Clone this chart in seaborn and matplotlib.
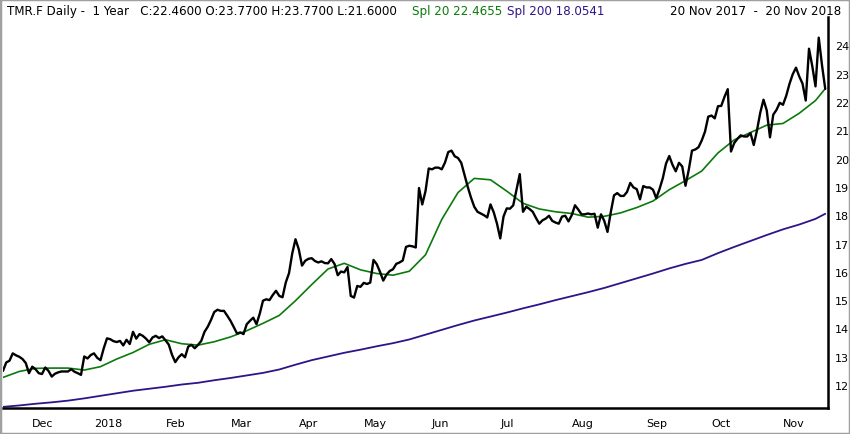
import numpy as np
import pandas as pd
import matplotlib
matplotlib.use("Agg")
import matplotlib.pyplot as plt
import seaborn as sns
from matplotlib.patches import Rectangle

# Frankfurt trading days, 20 Nov 2017 - 20 Nov 2018
holidays = ["2017-12-25", "2017-12-26", "2018-01-01", "2018-03-30",
            "2018-04-02", "2018-05-01", "2018-05-21", "2018-10-03"]
dates = pd.bdate_range("2017-11-20", "2018-11-20", freq="C", holidays=holidays)

# daily close
close = [12.50, 12.80, 12.86, 13.12, 13.05, 13.00, 12.92, 12.78, 12.42, 12.65,
         12.56, 12.42, 12.39, 12.62, 12.50, 12.30, 12.40, 12.45, 12.48, 12.48,
         12.48, 12.56, 12.47, 12.42, 12.36, 13.01, 12.94, 13.06, 13.12, 12.96,
         12.88, 13.30, 13.65, 13.62, 13.55, 13.52, 13.56, 13.40, 13.60, 13.45,
         13.88, 13.64, 13.80, 13.74, 13.64, 13.51, 13.68, 13.74, 13.66, 13.72,
         13.58, 13.43, 13.07, 12.81, 12.98, 13.09, 12.98, 13.36, 13.42, 13.30,
         13.42, 13.56, 13.88, 14.06, 14.30, 14.58, 14.66, 14.62, 14.62, 14.45,
         14.27, 14.05, 13.82, 13.86, 13.80, 14.15, 14.27, 14.38, 14.15, 14.52,
         14.98, 15.03, 15.00, 15.18, 15.33, 15.15, 15.10, 15.62, 15.95, 16.65,
         17.15, 16.80, 16.22, 16.39, 16.46, 16.48, 16.38, 16.33, 16.37, 16.31,
         16.30, 16.45, 16.28, 15.88, 16.01, 15.98, 16.17, 15.15, 15.09, 15.50,
         15.47, 15.61, 15.57, 15.62, 16.42, 16.27, 16.00, 15.69, 15.90, 16.03,
         16.09, 16.28, 16.33, 16.40, 16.88, 16.92, 16.90, 16.86, 18.96, 18.38,
         18.85, 19.65, 19.62, 19.68, 19.68, 19.62, 19.86, 20.23, 20.28, 20.08,
         20.02, 19.85, 19.43, 19.00, 18.62, 18.30, 18.12, 18.06, 18.00, 17.92,
         18.38, 18.10, 17.70, 17.18, 17.95, 18.24, 18.23, 18.35, 18.90, 19.45,
         18.12, 18.30, 18.22, 18.12, 17.90, 17.70, 17.82, 17.88, 17.98, 17.80,
         17.74, 17.70, 17.95, 17.98, 17.78, 18.00, 18.35, 18.20, 18.03, 18.03,
         18.06, 18.03, 18.05, 17.56, 18.03, 17.80, 17.41, 18.10, 18.70, 18.78,
         18.68, 18.68, 18.82, 19.14, 18.98, 18.92, 18.56, 19.03, 18.98, 18.98,
         18.90, 18.60, 18.92, 19.30, 19.82, 20.09, 19.78, 19.55, 19.85, 19.72,
         19.04, 19.60, 20.28, 20.32, 20.40, 20.64, 20.95, 21.48, 21.52, 21.42,
         21.85, 21.86, 22.18, 22.45, 20.25, 20.55, 20.70, 20.82, 20.78, 20.78,
         20.90, 20.48, 21.00, 21.62, 22.08, 21.70, 20.75, 21.55, 21.72, 21.97,
         21.90, 22.22, 22.64, 22.98, 23.21, 22.90, 22.65, 22.05, 23.88, 23.27,
         22.55, 24.27, 23.30, 22.46]

# moving averages, every 5th trading day plus the last one
sma_days = list(range(0, 251, 5)) + [253]
sma20 = [12.27, 12.48, 12.59, 12.60, 12.60, 12.53, 12.65, 12.92, 13.15, 13.44,
         13.60, 13.46, 13.41, 13.53, 13.70, 13.92, 14.18, 14.46, 14.98, 15.55,
         16.10, 16.30, 16.07, 15.94, 15.88, 16.02, 16.60, 17.85, 18.80, 19.30,
         19.25, 18.85, 18.42, 18.22, 18.12, 18.06, 17.93, 17.96, 18.08, 18.27,
         18.50, 18.90, 19.22, 19.56, 20.20, 20.66, 20.92, 21.18, 21.24, 21.60,
         22.05, 22.47]
sma200 = [11.23, 11.28, 11.34, 11.39, 11.45, 11.53, 11.62, 11.71, 11.80, 11.87,
          11.94, 12.02, 12.08, 12.17, 12.25, 12.34, 12.43, 12.55, 12.72, 12.88,
          13.01, 13.14, 13.25, 13.37, 13.48, 13.61, 13.78, 13.95, 14.12, 14.28,
          14.42, 14.56, 14.71, 14.85, 15.00, 15.14, 15.28, 15.43, 15.60, 15.77,
          15.94, 16.12, 16.28, 16.42, 16.66, 16.88, 17.09, 17.30, 17.50, 17.67,
          17.87, 18.05]

header = "TMR.F Daily -  1 Year   C:22.4600 O:23.7700 H:23.7700 L:21.6000"
label20 = "Spl 20 22.4655"
label200 = "Spl 200 18.0541"
span = "20 Nov 2017  -  20 Nov 2018"
yticks = list(range(12, 25))

green = "#0b7a0b"
navy = "#2e1488"

sns.set_style("white")
plt.rcParams["font.family"] = ["DejaVu Sans"]

fig = plt.figure(figsize=(8.5, 4.35), dpi=100)
ax = fig.add_axes([3 / 850, 26 / 435, 825 / 850, 391 / 435])

day = np.arange(len(dates))
sns.lineplot(x=sma_days, y=sma200, ax=ax, color=navy, lw=1.3)
sns.lineplot(x=sma_days, y=sma20, ax=ax, color=green, lw=1.2)
sns.lineplot(x=day, y=close, ax=ax, color="black", lw=1.7)

ax.set_xlim(0, 825 / 3.25)
ax.set_ylim(11.19, 25.0)

# month ticks at first trading day of each month
month = dates.to_period("M")
first = np.flatnonzero(month[1:] != month[:-1]) + 1
mlabels = ["2018" if dates[i].month == 1 else dates[i].strftime("%b") for i in first]
ax.set_xticks(first)
ax.set_xticklabels(mlabels, ha="left")
ax.tick_params(axis="x", direction="out", length=4, width=1.6, pad=3,
               labelsize=8, colors="black")

ax.yaxis.tick_right()
ax.set_yticks(yticks)
ax.tick_params(axis="y", length=0, pad=5, labelsize=8, colors="black")

for s in ["left", "top"]:
    ax.spines[s].set_visible(False)
for s in ["right", "bottom"]:
    ax.spines[s].set_color("black")
    ax.spines[s].set_linewidth(1.8)
ax.set_xlabel("")
ax.set_ylabel("")
ax.grid(False)

# header: pieces chained left to right so they never overlap
ty = 1 - 15 / 435
fs = 8.6
renderer = fig.canvas.get_renderer()
x0 = 7
for txt, col, want in [(header, "black", 7), (label20, green, 412), (label200, navy, 478)]:
    x0 = max(x0, want)
    t = fig.text(x0 / 850, ty, txt, fontsize=fs, color=col, va="baseline")
    x0 = t.get_window_extent(renderer).x1 + 5
fig.text(841 / 850, ty, span, fontsize=fs, color="black", va="baseline", ha="right")

fig.patches.append(Rectangle((0, 0), 1, 1, transform=fig.transFigure, fill=False,
                             edgecolor="#a0a0a0", lw=2.5))

fig.savefig("out.png", dpi=100)
